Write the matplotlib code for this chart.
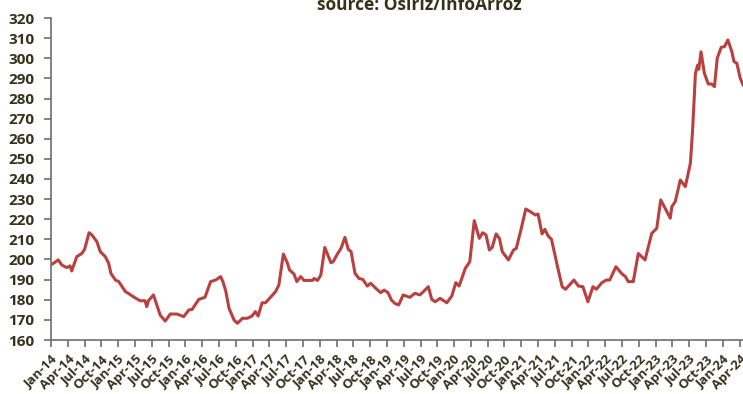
import matplotlib
matplotlib.use('Agg')
import matplotlib.pyplot as plt

# months since Jan-14 and price values
months = [0.0, 1.3, 1.9, 2.8, 3.4, 3.7, 4.6, 5.5, 6.0, 6.8, 7.3, 8.2, 8.8, 9.7,
          10.3, 10.7, 11.5, 12.1, 13.3, 13.8, 14.7, 15.9, 16.8, 17.1, 17.4, 18.3,
          18.8, 19.5, 20.4, 21.3, 22.5, 23.7, 24.6, 25.2, 26.4, 27.5, 28.5, 29.4,
          30.3, 30.7, 31.2, 31.8, 32.7, 33.3, 34.2, 35.1, 35.9, 36.5, 37.0, 37.7,
          38.3, 39.2, 40.1, 40.7, 41.5, 42.2, 42.6, 43.4, 43.9, 44.6, 45.2, 46.7,
          47.0, 47.6, 48.2, 48.9, 50.0, 50.4, 51.2, 51.8, 52.5, 53.1, 53.6, 54.3,
          55.0, 55.7, 56.5, 57.1, 58.0, 58.9, 59.5, 60.2, 60.8, 61.4, 62.1, 62.9,
          64.1, 65.0, 65.9, 66.5, 67.4, 68.0, 68.6, 69.5, 70.7, 71.6, 72.3, 72.9,
          74.0, 74.8, 75.6, 76.5, 77.1, 77.7, 78.3, 78.8, 79.5, 80.1, 80.6, 81.7,
          82.6, 83.1, 84.0, 84.8, 85.6, 86.5, 87.0, 87.7, 88.2, 88.8, 89.4, 90.4,
          91.3, 91.9, 93.4, 94.2, 95.0, 95.9, 96.8, 97.4, 98.4, 99.2, 99.8, 100.9,
          101.9, 102.6, 103.1, 104.0, 104.9, 106.1, 107.3, 108.2, 108.9, 109.7,
          110.6, 110.9, 111.5, 112.4, 113.3, 114.2, 114.6, 115.1, 115.5, 115.7,
          116.1, 116.7, 117.4, 118.0, 118.5, 119.0, 119.7, 120.3, 120.9, 121.6,
          122.0, 122.5, 123.1, 123.6]
price = [197.3, 199.8, 197.3, 196.0, 196.8, 194.3, 201.4, 203.0, 205.0, 213.3,
         212.2, 208.8, 203.9, 201.4, 198.1, 193.1, 189.8, 189.0, 184.0, 183.2,
         181.5, 179.5, 179.5, 176.6, 179.5, 182.4, 178.2, 172.4, 169.4, 172.9,
         172.9, 171.6, 174.9, 175.2, 180.2, 181.2, 189.0, 189.8, 191.5, 189.0,
         184.5, 175.7, 169.9, 168.3, 170.8, 170.8, 171.9, 174.1, 171.9, 178.5,
         178.5, 181.2, 184.0, 187.3, 202.7, 198.4, 194.8, 192.8, 189.0, 191.5,
         189.6, 189.6, 190.6, 189.6, 192.3, 206.0, 198.4, 198.9, 203.0, 205.5,
         211.0, 205.0, 203.9, 193.1, 190.6, 190.1, 186.8, 188.2, 185.7, 183.5,
         184.8, 183.5, 179.9, 178.2, 177.4, 182.4, 181.2, 183.2, 182.4, 184.0,
         186.5, 180.2, 179.0, 180.7, 178.5, 181.9, 188.5, 186.8, 195.6, 198.9,
         219.3, 210.5, 213.3, 212.2, 204.7, 206.0, 212.7, 210.5, 203.9, 199.8,
         204.7, 205.5, 215.5, 225.1, 223.8, 222.1, 222.6, 212.7, 215.0, 211.7,
         210.0, 197.3, 186.5, 185.2, 189.8, 186.8, 186.5, 179.0, 186.5, 185.2,
         188.5, 189.8, 189.8, 196.4, 193.1, 191.5, 189.0, 189.0, 203.0, 199.8,
         213.0, 215.5, 229.6, 225.4, 220.5, 226.3, 228.8, 239.5, 236.2, 247.8,
         264.3, 292.5, 296.6, 294.5, 303.2, 292.5, 287.2, 287.2, 285.9, 300.0,
         305.4, 305.8, 309.1, 303.3, 298.3, 297.5, 290.1, 286.8]

tick_labels = []
for yr in range(14, 25):
    for m in ['Jan', 'Apr', 'Jul', 'Oct']:
        tick_labels.append('%s-%d' % (m, yr))
tick_labels = tick_labels[:42]

text_col = '#33331c'

fig = plt.figure(figsize=(7.43, 3.94), dpi=100)
ax = fig.add_axes([51 / 743, 1 - 340 / 394, 692 / 743, 322 / 394])

ax.plot(months, price, color='#b8413f', linewidth=2.2, solid_joinstyle='round')

ax.set_ylim(160, 320)
ax.set_yticks(range(160, 321, 10))
ax.set_xlim(0, 123.6)
ax.set_xticks([3 * i for i in range(len(tick_labels))])
ax.set_xticklabels(tick_labels, rotation=45, ha='right', rotation_mode='anchor')

for s in ['top', 'right']:
    ax.spines[s].set_visible(False)
for s in ['left', 'bottom']:
    ax.spines[s].set_color('#6e6e6e')
    ax.spines[s].set_linewidth(1.2)

ax.tick_params(axis='both', direction='out', length=5, width=1.2, color='#6e6e6e')
ax.tick_params(axis='y', pad=7)
ax.tick_params(axis='x', pad=4)
for lab in ax.get_yticklabels():
    lab.set_fontfamily('Open Sans')
    lab.set_fontweight('bold')
    lab.set_fontsize(11)
    lab.set_color(text_col)
for lab in ax.get_xticklabels():
    lab.set_fontfamily('Open Sans')
    lab.set_fontweight('bold')
    lab.set_fontsize(9.5)
    lab.set_color(text_col)

fig.text(0.565, 1 - 10 / 394, 'source: Osiriz/InfoArroz', ha='center', va='baseline',
         fontsize=12.5, fontweight='bold', family='Open Sans', color=text_col)

fig.savefig('out.png', dpi=100)
